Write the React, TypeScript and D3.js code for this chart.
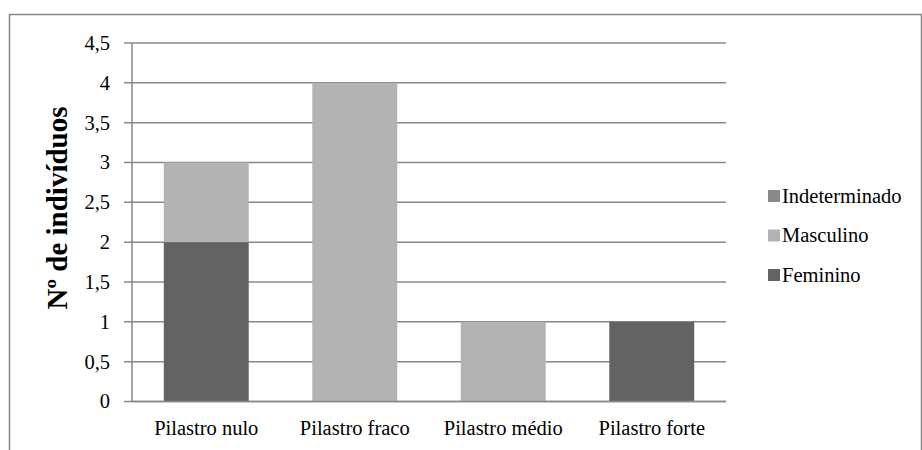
import React from "react";
import * as d3 from "d3";

const categories = ["Pilastro nulo", "Pilastro fraco", "Pilastro médio", "Pilastro forte"];
const feminino = [2, 0, 0, 1];
const masculino = [1, 4, 1, 0];
const indeterminado = [0, 0, 0, 0];
const yTicks = [0, 0.5, 1, 1.5, 2, 2.5, 3, 3.5, 4, 4.5];
const seriesNames = ["Feminino", "Masculino", "Indeterminado"];
const seriesColors = ["#636363", "#b3b3b3", "#8a8a8a"];
const yTitle = "Nº de indivíduos";

const W = 922;
const H = 450;
const plot = { left: 132, right: 726, top: 43, bottom: 401.5 };
const tickStyle = { fontFamily: "Liberation Serif", fontSize: "20.5px" };
const labelStyle = { fontFamily: "Liberation Serif", fontSize: "20.5px" };
const titleStyle = { fontFamily: "Liberation Serif", fontSize: "29px", fontWeight: "bold" as const };

export default function App() {
  const x = d3.scaleBand<string>().domain(categories).range([plot.left, plot.right]).paddingInner(0.428).paddingOuter(0.214);
  const y = d3.scaleLinear().domain([0, 4.5]).range([plot.bottom, plot.top]);
  const rows = categories.map((c, i) => ({
    cat: c,
    Feminino: feminino[i],
    Masculino: masculino[i],
    Indeterminado: indeterminado[i],
  }));
  const stacked = d3.stack<any>().keys(seriesNames)(rows);
  const fmt = (v: number) => String(v).replace(".", ",");
  const legendY0 = 196;
  const legendStep = 39.5;

  return (
    <svg width={W} height={H} style={{ position: "absolute", left: 0, top: 0, background: "#fff" }}>
      <rect x={9.5} y={14.5} width={912} height={460} fill="#fff" stroke="#868686" strokeWidth={1.5} />
      {yTicks.map((t) => (
        <g key={t}>
          <line x1={plot.left - 8} x2={plot.right} y1={y(t)} y2={y(t)} stroke="#888" strokeWidth={1.5} />
          <text x={110} y={y(t)} dy="0.34em" textAnchor="end" style={tickStyle} fill="#000">
            {fmt(t)}
          </text>
        </g>
      ))}
      <line x1={plot.left} x2={plot.left} y1={plot.top} y2={plot.bottom} stroke="#888" strokeWidth={1.5} />
      {stacked.map((s, si) =>
        s.map((d, i) =>
          d[1] - d[0] > 0 ? (
            <rect
              key={`${si}-${i}`}
              x={x(categories[i])}
              width={x.bandwidth()}
              y={y(d[1])}
              height={y(d[0]) - y(d[1])}
              fill={seriesColors[si]}
            />
          ) : null
        )
      )}
      <line x1={plot.left} x2={plot.right} y1={plot.bottom} y2={plot.bottom} stroke="#888" strokeWidth={1.5} />
      {categories.map((c) => (
        <text key={c} x={(x(c) as number) + x.bandwidth() / 2} y={435} textAnchor="middle" style={labelStyle} fill="#000">
          {c}
        </text>
      ))}
      <text transform={`translate(67,208) rotate(-90)`} textAnchor="middle" style={titleStyle} fill="#000">
        {yTitle}
      </text>
      {[2, 1, 0].map((si, k) => (
        <g key={si}>
          <rect x={768} y={legendY0 + k * legendStep - 6} width={12} height={12} fill={seriesColors[si]} />
          <text x={782} y={legendY0 + k * legendStep} dy="0.34em" style={labelStyle} fill="#000">
            {seriesNames[si]}
          </text>
        </g>
      ))}
    </svg>
  );
}
